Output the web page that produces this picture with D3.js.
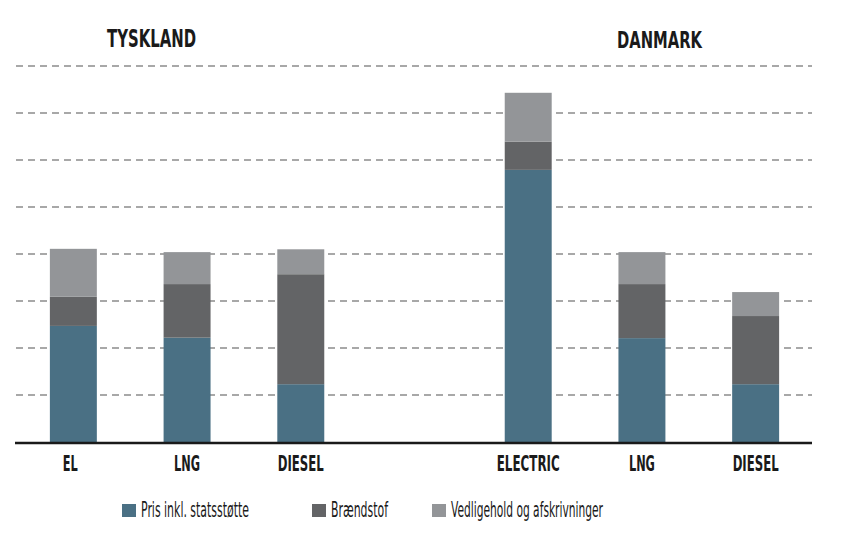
<!DOCTYPE html>
<html lang="da">
<head>
<meta charset="utf-8">
<script src="https://d3js.org/d3.v7.min.js"></script>
<style>
  body { margin: 0; background: #fff; }
  text { font-family: "Liberation Sans Narrow", "DejaVu Sans Condensed", "DejaVu Sans", sans-serif; }
</style>
<title>Tyskland / Danmark</title>
</head>
<body>
<div id="chart"></div>
<script>
// data, in gridline units
const slots = ["EL", "LNG_T", "DIESEL_T", "", "ELECTRIC", "LNG_D", "DIESEL_D"];
const labels = ["EL", "LNG", "DIESEL", "ELECTRIC", "LNG", "DIESEL"];
const keys = ["EL", "LNG_T", "DIESEL_T", "ELECTRIC", "LNG_D", "DIESEL_D"];
const pris = [2.47, 2.22, 1.23, 5.79, 2.21, 1.23];
const braendstof = [0.62, 1.14, 2.34, 0.60, 1.15, 1.45];
const vedligehold = [1.02, 0.68, 0.53, 1.04, 0.68, 0.51];
const seriesNames = ["Pris inkl. statsstøtte", "Brændstof", "Vedligehold og afskrivninger"];
const gridTicks = [1, 2, 3, 4, 5, 6, 7, 8];

const w = 849, h = 553;
const colors = ["#4a7084", "#636466", "#939598"];
// condensed font is not installed, so squeeze text to the widths seen
const labelW = [15, 26, 46, 63, 26, 46];
const legendW = [108, 57, 152];

const table = keys.map((k, i) => ({ key: k, label: labels[i], s0: pris[i], s1: braendstof[i], s2: vedligehold[i] }));
const stack = d3.stack().keys(["s0", "s1", "s2"])(table);

const svg = d3.select("#chart").append("svg")
  .attr("width", w).attr("height", h);

const x = d3.scaleBand().domain(slots).range([16.5, 812.5])
  .paddingInner(0.587).paddingOuter(0.2935);
const y = d3.scaleLinear().domain([0, 8]).range([442, 66]);

// grid
svg.append("g").selectAll("line")
  .data(gridTicks).enter().append("line")
  .attr("x1", 16).attr("x2", 812)
  .attr("y1", d => y(d)).attr("y2", d => y(d))
  .attr("stroke", "#a8a8a8").attr("stroke-width", 2)
  .attr("stroke-dasharray", "7,5");

// bars
svg.append("g").selectAll("g")
  .data(stack).enter().append("g")
  .attr("fill", (d, i) => colors[i])
  .selectAll("rect")
  .data(d => d).enter().append("rect")
  .attr("x", d => x(d.data.key))
  .attr("width", x.bandwidth())
  .attr("y", d => y(d[1]))
  .attr("height", d => y(d[0]) - y(d[1]));

// baseline
svg.append("line")
  .attr("x1", 15).attr("x2", 812)
  .attr("y1", y(0) + 1).attr("y2", y(0) + 1)
  .attr("stroke", "#1a1a1a").attr("stroke-width", 2.5);

// category labels
svg.append("g").selectAll("text")
  .data(table).enter().append("text")
  .attr("x", (d, i) => x(d.key) + x.bandwidth() / 2 - (i == 0 ? 3 : 0))
  .attr("y", 471)
  .attr("text-anchor", "middle")
  .attr("font-size", 21).attr("font-weight", "bold")
  .attr("fill", "#1a1a1a")
  .attr("textLength", (d, i) => labelW[i])
  .attr("lengthAdjust", "spacingAndGlyphs")
  .text(d => d.label);

// group titles
svg.append("text").attr("x", 107).attr("y", 47)
  .attr("font-size", 25).attr("font-weight", "bold")
  .attr("textLength", 89).attr("lengthAdjust", "spacingAndGlyphs")
  .attr("fill", "#1a1a1a").text("TYSKLAND");
svg.append("text").attr("x", 617).attr("y", 48)
  .attr("font-size", 23).attr("font-weight", "bold")
  .attr("textLength", 85).attr("lengthAdjust", "spacingAndGlyphs")
  .attr("fill", "#1a1a1a").text("DANMARK");

// legend
const legendX = [122, 312, 432];
const lg = svg.append("g").selectAll("g")
  .data(seriesNames).enter().append("g")
  .attr("transform", (d, i) => "translate(" + legendX[i] + ",504)");
lg.append("rect").attr("width", 14).attr("height", 13)
  .attr("fill", (d, i) => colors[i]);
lg.append("text").attr("x", 19).attr("y", 13)
  .attr("font-size", 22).attr("fill", "#1a1a1a")
  .attr("textLength", (d, i) => legendW[i])
  .attr("lengthAdjust", "spacingAndGlyphs")
  .text(d => d);
</script>
</body>
</html>
